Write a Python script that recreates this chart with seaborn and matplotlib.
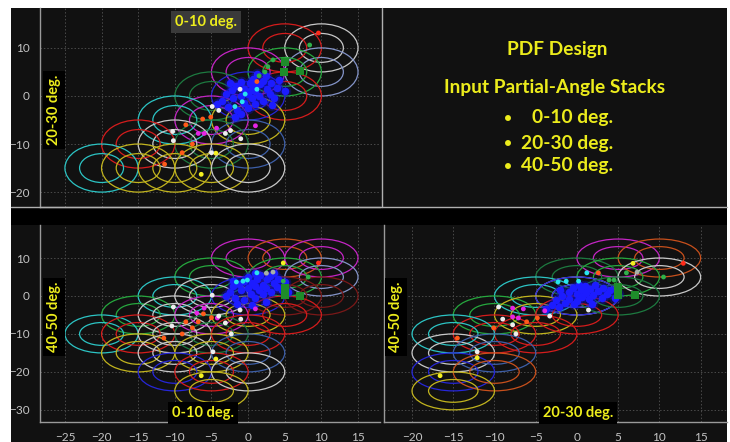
import matplotlib
matplotlib.use("Agg")
import matplotlib.pyplot as plt
from matplotlib.patches import Ellipse, Rectangle
from matplotlib.lines import Line2D
from matplotlib.ticker import MultipleLocator
import seaborn as sns
import pandas as pd

# ---- data ----
# top-left panel: x = 0-10 deg., y = 20-30 deg.
tl_ell_x = [10, 5, 10, 5, 5, 0, 0, -5, 0, -5, -10, 0, -5, -10, -15, -20, -15, -10, -5, 0]
tl_ell_y = [10, 10, 5, 5, 0, 5, 0, 0, -5, -5, -5, -10, -10, -10, -10, -15, -15, -15, -15, -15]
tl_ell_c = ["white", "red", "slate", "green", "red", "magenta", "blue", "dkgreen", "yellow", "magenta",
            "cyan", "steel", "dkgreen", "white", "red", "cyan", "yellow", "yellow", "yellow", "white"]
tl_dot_x = [9.6, 8.4, 3.4, 2.7, 2.3, 1.5, 1.2, -1.1, -0.4, 1.2, -0.8, -1.8, -4.9, -4.0, -6.2, -5.1, -8.5,
            -6.8, -6.0, 1.0, -4.3, -3.1, -2.4, -1.0, -10.3, -10.2, -7.6, -9.0, -11.4, -4.4, -5.0, -6.4]
tl_dot_y = [13.1, 10.6, 7.5, 6.1, 5.0, 4.2, 3.0, 1.4, 0.4, 1.4, -1.2, -2.2, -2.2, -3.0, -4.8, -4.4, -6.0,
            -7.8, -7.8, -6.2, -6.7, -7.8, -7.2, -8.9, -7.4, -9.3, -10.0, -11.8, -14.2, -11.9, -11.8, -16.3]
tl_dot_c = ["red", "green", "green", "green", "green", "green", "orange", "white", "cyan", "cyan", "cyan", "cyan",
            "white", "white", "orange", "orange", "orange", "magenta", "magenta", "magenta", "magenta",
            "white", "white", "white", "white", "white", "orange", "orange", "orange", "yellow", "white", "yellow"]
tl_sq_x = [5.0, 4.9, 7.1]
tl_sq_y = [7.1, 5.0, 5.2]
tl_blue_x = [-3.5, -3.0, -2.8, -2.2, -2.0, -1.6, -1.5, -1.0, -1.0, -0.6, -0.5, 0.0, 0.0, 0.2, 0.5, 0.6, 1.0, 1.0,
             1.6, 1.5, 2.0, 2.1, 2.6, 2.5, 3.0, 3.1, 3.6, 4.0, 4.2, -1.0, -2.5, 1.2, 5.0, -4.2, 0.4, -0.2, 0.9,
             -1.8, 3.2]
tl_blue_y = [-1.0, 0.5, -2.2, 1.2, -0.5, 2.0, -3.0, 0.0, 3.0, -1.5, 1.5, 0.5, -2.6, 2.6, -0.5, 3.6, 1.0, -1.6,
             2.4, 0.0, 3.2, -1.0, 1.5, 4.2, 0.4, 2.6, -0.4, 1.6, 3.4, -3.8, 2.6, 4.6, 1.0, -1.6, 1.2, 0.8, 2.0,
             -4.4, -1.8]

# bottom-left panel: x = 0-10 deg., y = 40-50 deg.
bl_ell_x = [0, 5, 10, -5, 5, 10, -10, -5, 0, 5, 10, -15, -10, -5, 0, 5, -20, -15, -10, -5, 0,
            -15, -10, -5, 0, -10, -5, 0, -5]
bl_ell_y = [10, 10, 10, 5, 5, 5, 0, 0, 0, 0, 0, -5, -5, -5, -5, -5, -10, -10, -10, -10, -10,
            -15, -15, -15, -15, -20, -20, -20, -25]
bl_ell_c = ["magenta", "orange", "magenta", "green", "green", "slate", "cyan", "white", "blue", "dkred", "dkred",
            "green", "white", "magenta", "yellow", "red", "cyan", "red", "white", "dkgreen", "red",
            "yellow", "white", "yellow", "steel", "blue", "red", "white", "yellow"]
bl_dot_x = [4.8, 9.6, 3.4, 2.5, 1.2, -0.1, -0.7, -1.6, 4.8, 8.2, -4.9, -6.0, 1.0, -4.2, -7.0, -10.2, -1.1,
            -1.0, -4.0, -3.1, -2.3, -6.1, -5.0, -6.8, -8.5, -7.6, -9.0, -11.5, -10.4, -4.8, -4.4, -6.4]
bl_dot_y = [8.7, 8.7, 6.3, 6.0, 6.1, 4.2, 3.9, 3.7, 3.9, 5.0, 0.2, -3.2, -3.4, -5.8, -4.5, -2.9, -3.7,
            -6.1, -5.3, -7.1, -10.0, -4.7, -5.7, -6.8, -6.8, -8.4, -10.0, -11.1, -7.9, -14.7, -16.6, -21.0]
bl_dot_c = ["yellow", "red", "gray", "gray", "cyan", "cyan", "cyan", "cyan", "green", "green", "white",
            "magenta", "magenta", "magenta", "magenta", "white", "white", "white", "white", "white", "white",
            "orange", "orange", "orange", "orange", "orange", "orange", "orange", "white", "white", "yellow",
            "yellow"]
bl_sq_x = [5.0, 5.0, 7.1]
bl_sq_y = [2.1, 0.3, 0.0]
bl_blue_x = [-2.5, -2.0, -1.8, -1.2, -1.0, -0.6, -0.5, 0.0, 0.0, 0.4, 0.5, 1.0, 1.0, 1.2, 1.5, 1.6, 2.0, 2.0,
             2.6, 2.5, 3.0, 3.1, 3.6, 3.5, 4.0, 4.1, 4.6, 5.0, -1.5, -3.0, 2.5, 5.5, 0.5, -2.0, 1.0]
bl_blue_y = [1.0, 2.5, -0.5, 3.2, 1.5, 4.0, -1.0, 2.0, 5.0, 0.5, 3.5, 2.5, -0.6, 4.6, 1.5, 5.6, 3.0, 0.4,
             4.4, 2.0, 5.2, 1.0, 3.5, 6.0, 2.4, 4.6, 1.6, 3.6, -2.0, 0.0, -1.5, 1.0, -2.5, 4.0, 6.0]

# bottom-right panel: x = 20-30 deg., y = 40-50 deg.
br_ell_x = [5, 10, 0, 5, 10, -5, 0, 0, 5, -10, -5, 0, -5, -10, -15, -15, -10, -15, -10, -15]
br_ell_y = [10, 10, 5, 5, 5, 0, 0, 0, 0, -5, -5, -5, -10, -10, -10, -15, -15, -20, -20, -25]
br_ell_c = ["magenta", "orange", "dkgreen", "green", "white", "cyan", "white", "blue", "dkgreen", "green",
            "yellow", "red", "red", "red", "cyan", "white", "steel", "blue", "orange", "yellow"]
br_dot_x = [12.9, 6.8, 7.3, 6.0, 10.5, 2.6, 1.2, 0.2, -1.3, -2.3, 3.9, 4.5, 1.4, -7.8, -6.5, -3.9, -7.8, -7.1,
            -9.5, -9.0, -3.3, -7.8, -7.4, -6.1, -4.8, -10.1, -14.5, -12.1, -12.1, -16.6]
br_dot_y = [8.6, 8.6, 6.3, 6.1, 5.0, 6.1, 6.1, 3.9, 3.9, 3.7, 4.2, 4.2, -3.7, -3.2, -3.4, -3.9, -5.5, -5.8,
            -2.9, -6.1, -5.3, -7.6, -10.0, -6.8, -5.8, -8.4, -11.1, -14.7, -16.3, -21.0]
br_dot_c = ["red", "yellow", "gray", "green", "green", "orange", "cyan", "cyan", "cyan", "cyan", "green", "green",
            "white", "magenta", "magenta", "magenta", "magenta", "magenta", "white", "white", "white", "white",
            "white", "orange", "orange", "orange", "orange", "white", "yellow", "yellow"]
br_sq_x = [5.0, 5.0, 7.1]
br_sq_y = [2.4, 0.3, 0.3]
br_blue_x = [-3.0, -2.5, -2.2, -1.8, -1.5, -1.0, -1.0, -0.5, -0.4, 0.0, 0.0, 0.5, 0.6, 1.0, 1.1, 1.5, 1.6, 2.0,
             2.2, 2.6, 3.0, 3.2, 3.6, 4.0, 4.6, -3.8, 0.2, -2.0, 5.0, 1.8]
br_blue_y = [-2.5, -1.0, -3.0, 0.0, -1.8, 1.0, -0.8, 2.0, -2.2, 0.4, -1.2, 1.6, -0.4, 2.6, 0.8, -0.8, 1.8, 0.2,
             2.8, 1.2, -0.5, 2.0, 0.6, 1.5, -0.6, -3.5, 3.0, 1.5, 0.4, -2.0]

ELL_COLORS = {"white": "#c8c8c8", "red": "#d41c1c", "dkred": "#7a1818", "slate": "#8494c8", "green": "#26a83e",
              "dkgreen": "#1d7a40", "magenta": "#c425c4", "blue": "#2626d8", "yellow": "#c2b41e",
              "cyan": "#2cc4c4", "steel": "#3d5fa8", "orange": "#c8501c"}
DOT_COLORS = {"white": "#eeeeee", "gray": "#a8b0a8", "red": "#ff2a1a", "green": "#2fb04a", "orange": "#ff5a1a",
              "magenta": "#e424e4", "cyan": "#28e4ee", "yellow": "#f4f020"}
TEXT_YELLOW = "#ecec1c"
BG = "#111111"

W, H = 730, 442


def fx(px):
    return px / W


def fy(py):
    return 1 - py / H


def draw_panel(ax, ell_x, ell_y, ell_c, dot_x, dot_y, dot_c, sq_x, sq_y, blue_x, blue_y, xlim, ylim):
    ax.set_facecolor(BG)
    for x, y, c in zip(ell_x, ell_y, ell_c):
        for r in (5.0, 3.0):
            ax.add_patch(Ellipse((x, y), 2 * r, 2 * r, fill=False, ec=ELL_COLORS[c], lw=0.9, zorder=2))
    # soft halo, then the blue cluster itself
    sns.scatterplot(x=blue_x, y=blue_y, color="#1010c8", s=70, alpha=0.35, linewidth=0, ax=ax, zorder=3,
                    legend=False)
    sns.scatterplot(x=blue_x, y=blue_y, color="#1c1cff", s=30, linewidth=0, ax=ax, zorder=3, legend=False)
    dots = pd.DataFrame({"x": dot_x, "y": dot_y, "c": dot_c})
    sns.scatterplot(data=dots, x="x", y="y", hue="c", palette=DOT_COLORS, s=12, linewidth=0,
                    ax=ax, zorder=4, legend=False)
    sns.scatterplot(x=sq_x, y=sq_y, color="#1e8c2a", marker="s", s=40, linewidth=0, ax=ax, zorder=4,
                    legend=False)
    ax.set_xlim(*xlim)
    ax.set_ylim(*ylim)
    ax.set_xlabel("")
    ax.set_ylabel("")
    ax.xaxis.set_major_locator(MultipleLocator(5))
    ax.yaxis.set_major_locator(MultipleLocator(10))
    ax.grid(True, which="major", color="#4a4a4a", lw=0.7, ls=(0, (1.5, 2)))
    ax.set_axisbelow(True)
    for s in ("top", "right"):
        ax.spines[s].set_visible(False)
    for s in ("left", "bottom"):
        ax.spines[s].set_color("#9a9a9a")
        ax.spines[s].set_linewidth(1.0)
    ax.tick_params(colors="#9a9a9a", labelcolor="#c4c4c4", labelsize=8.5, length=4, width=0.8)
    ax.tick_params(which="minor", colors="#9a9a9a", length=2.5, width=0.6)


sns.set_theme(style="dark")
plt.rcParams["font.family"] = ["Lato", "DejaVu Sans"]

fig = plt.figure(figsize=(7.3, 4.42), dpi=100, facecolor="white")
fig.patches.append(Rectangle((fx(11), 0), fx(716), fy(8), transform=fig.transFigure, fc=BG, ec="none",
                             zorder=-2))
fig.patches.append(Rectangle((fx(11), fy(225)), fx(716), 17 / H, transform=fig.transFigure, fc="#000000",
                             ec="none", zorder=-1))

ax_tl = fig.add_axes([fx(40), fy(207), 340 / W, 199 / H])
ax_bl = fig.add_axes([fx(40), fy(422), 340 / W, 197 / H])
ax_br = fig.add_axes([fx(384), fy(422), 343 / W, 197 / H])

draw_panel(ax_tl, tl_ell_x, tl_ell_y, tl_ell_c, tl_dot_x, tl_dot_y, tl_dot_c, tl_sq_x, tl_sq_y,
           tl_blue_x, tl_blue_y, (-28.4, 18.0), (-23.1, 18.3))
draw_panel(ax_bl, bl_ell_x, bl_ell_y, bl_ell_c, bl_dot_x, bl_dot_y, bl_dot_c, bl_sq_x, bl_sq_y,
           bl_blue_x, bl_blue_y, (-28.4, 18.0), (-33.2, 18.7))
draw_panel(ax_br, br_ell_x, br_ell_y, br_ell_c, br_dot_x, br_dot_y, br_dot_c, br_sq_x, br_sq_y,
           br_blue_x, br_blue_y, (-23.4, 18.2), (-33.2, 18.7))

# top-left: y ruler only
ax_tl.yaxis.set_minor_locator(MultipleLocator(1))
ax_tl.tick_params(axis="x", bottom=False, labelbottom=False)
# bottom-left: both rulers
ax_bl.yaxis.set_minor_locator(MultipleLocator(1))
ax_bl.xaxis.set_minor_locator(MultipleLocator(0.5))
# bottom-right: x ruler only
ax_br.xaxis.set_minor_locator(MultipleLocator(0.5))
ax_br.tick_params(axis="y", which="both", left=False, labelleft=False)

# separators
fig.add_artist(Line2D([fx(11), fx(727)], [fy(207), fy(207)], color="#b0b0b0", lw=1.0))
fig.add_artist(Line2D([fx(382), fx(382)], [fy(8), fy(207)], color="#b0b0b0", lw=1.0))

lab = dict(color=TEXT_YELLOW, fontweight="bold", fontsize=10.5, ha="center", va="center")
fig.text(fx(206), fy(22), "0-10 deg.", bbox=dict(fc="#3a3a3a", ec="none", pad=3), **lab)
fig.text(fx(54), fy(110), "20-30 deg.", rotation=90, bbox=dict(fc="#000000", ec="none", pad=3), **lab)
fig.text(fx(54), fy(317), "40-50 deg.", rotation=90, bbox=dict(fc="#000000", ec="none", pad=3), **lab)
fig.text(fx(203), fy(413), "0-10 deg.", bbox=dict(fc="#000000", ec="none", pad=3), **lab)
fig.text(fx(396), fy(317), "40-50 deg.", rotation=90, bbox=dict(fc="#000000", ec="none", pad=3), **lab)
fig.text(fx(578), fy(413), "20-30 deg.", bbox=dict(fc="#000000", ec="none", pad=3), **lab)

title = dict(color=TEXT_YELLOW, fontweight="bold", fontsize=13.8, va="center")
fig.text(fx(557), fy(50), "PDF Design", ha="center", **title)
fig.text(fx(555), fy(87), "Input Partial-Angle Stacks", ha="center", **title)
for yy, s in zip([118, 143, 166], ["0-10 deg.", "20-30 deg.", "40-50 deg."]):
    fig.text(fx(508), fy(yy), "\u2022", ha="center", color=TEXT_YELLOW, fontweight="bold", fontsize=10,
             va="center")
    fig.text(fx(613), fy(yy), s, ha="right", **title)

fig.savefig("out.png", dpi=100, facecolor=fig.get_facecolor())
